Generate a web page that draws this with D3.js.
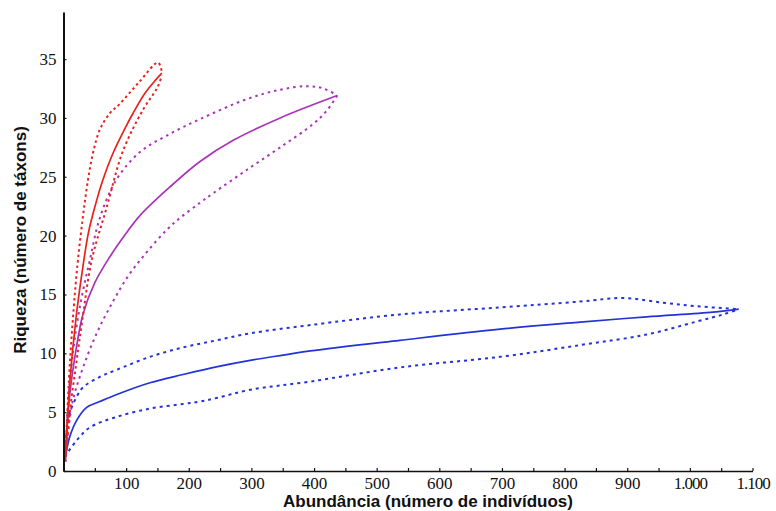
<!DOCTYPE html>
<html>
<head>
<meta charset="utf-8">
<script src="https://cdn.jsdelivr.net/npm/d3@7"></script>
<style>
  html, body { margin: 0; padding: 0; background: #fff; }
  svg { display: block; }
  .tick text { font-family: "Liberation Serif", "DejaVu Serif", "Times New Roman", serif; font-size: 17px; }
  .title { font-family: "Liberation Sans", Arial, sans-serif; font-weight: bold; font-size: 17px; }
</style>
</head>
<body>
<svg id="chart" width="776" height="511"></svg>
<script>
// Rarefaction curves: mean richness and confidence bounds (x = individuals, y = taxa)
const xTicks = [50,100,150,200,250,300,350,400,450,500,550,600,650,700,750,800,850,900,950,1000,1050,1100];
const xLabels = [100,200,300,400,500,600,700,800,900,1000,1100];
const yTicks = [0,5,10,15,20,25,30,35];

const redMean  = [[3,1],[10,7.5],[20,13],[30,17],[40,20.3],[53,23],[62,24.6],[79,27],[100,29.3],[111,30.4],[130,32.1],[145,33.1],[157,33.8]];
const redUpper = [[3,1.4],[10,9],[18,15],[23,17.9],[31,21.6],[39,24.7],[47,27],[58,29],[74,30.4],[90,31.2],[120,33],[151,34.7],[157,33.9]];
const redLower = [[3,0.8],[10,5],[20,9],[30,12.8],[45,17.9],[69,22.4],[95,27.2],[127,30.7],[150,32.6],[157,33.6]];

const purpleMean  = [[3,1],[10,6.5],[20,10.3],[31,13.3],[50,16],[74,18.2],[100,20.2],[122,21.7],[165,23.9],[218,26.3],[271,28.1],[346,30],[437,31.9]];
const purpleUpper = [[3,1.2],[10,7.5],[20,12],[30,15],[42,17.9],[58,21.5],[85,24.8],[122,27.1],[165,28.5],[218,29.9],[293,31.6],[346,32.4],[389,32.7],[415,32.5],[437,31.9]];
const purpleLower = [[3,0.8],[13,5.5],[26,8],[53,11.7],[80,14.5],[105,16.7],[133,18.6],[165,20.5],[186,21.5],[218,22.8],[239,23.6],[293,25.6],[346,27.5],[399,29.5],[420,30.6],[437,31.9]];

const blueMean  = [[2,0.9],[10,2.9],[21,4.3],[37,5.4],[58,5.9],[85,6.5],[138,7.5],[191,8.2],[244,8.85],[298,9.4],[351,9.85],[394,10.2],[537,11.1],[697,12.05],[825,12.65],[931,13.1],[1037,13.5],[1078,13.75]];
const blueUpper = [[2,1.8],[10,4.9],[21,6.3],[31,7.1],[58,8],[85,8.6],[138,9.7],[191,10.5],[244,11.1],[298,11.7],[394,12.4],[537,13.3],[697,13.9],[825,14.4],[894,14.7],[957,14.3],[1011,14],[1078,13.75]];
const blueLower = [[2,1.2],[21,2.6],[42,3.7],[85,4.6],[138,5.3],[191,5.7],[218,5.9],[244,6.2],[298,6.9],[394,7.6],[537,8.8],[697,9.7],[825,10.7],[931,11.6],[1011,12.7],[1053,13.3],[1078,13.75]];

const svg = d3.select("#chart");

const x = d3.scaleLinear().domain([0, 1100]).range([63.5, 752.5]);
const y = d3.scaleLinear().domain([0, 39]).range([471, 12]);

const ptBR = d3.formatLocale({ decimal: ",", thousands: ".", grouping: [3], currency: ["", ""] });
const fmt = ptBR.format(",d");

const line = d3.line()
  .x(d => x(d[0]))
  .y(d => y(d[1]))
  .curve(d3.curveCatmullRom.alpha(0.5));

const series = [
  { data: blueLower,   color: "#2233d8", dash: "3,4" },
  { data: blueUpper,   color: "#2233d8", dash: "3,4" },
  { data: blueMean,    color: "#2233d8", dash: null },
  { data: purpleLower, color: "#a834b8", dash: "2.5,4" },
  { data: purpleUpper, color: "#a834b8", dash: "2.5,4" },
  { data: purpleMean,  color: "#a834b8", dash: null },
  { data: redLower,    color: "#e8221e", dash: "2.5,3" },
  { data: redUpper,    color: "#e8221e", dash: "2.5,3" },
  { data: redMean,     color: "#e8221e", dash: null }
];

svg.append("g")
  .selectAll("path")
  .data(series)
  .join("path")
  .attr("d", d => line(d.data))
  .attr("fill", "none")
  .attr("stroke", d => d.color)
  .attr("stroke-width", d => d.dash ? 2 : 1.7)
  .attr("stroke-dasharray", d => d.dash);

// X axis: minor ticks every 50, labels on the hundreds
const xAxis = d3.axisBottom(x)
  .tickValues(xTicks)
  .tickFormat(v => xLabels.includes(v) ? fmt(v) : "")
  .tickSizeInner(-3)
  .tickSizeOuter(0)
  .tickPadding(6);

const gx = svg.append("g").attr("transform", "translate(0,471)").call(xAxis)
  .attr("font-family", null).attr("font-size", null);
gx.select(".domain").attr("stroke", "#111").attr("stroke-width", 1.6);
gx.selectAll(".tick line").attr("stroke", "#111").attr("stroke-width", 1.2);
gx.selectAll(".tick text")
  .attr("fill", "#111")
  .attr("letter-spacing", d => d >= 1000 ? -1 : null);

// Y axis
const yAxis = d3.axisLeft(y)
  .tickValues(yTicks)
  .tickSizeInner(-3)
  .tickSizeOuter(0)
  .tickPadding(7);

const gy = svg.append("g").attr("transform", "translate(63.5,0)").call(yAxis)
  .attr("font-family", null).attr("font-size", null);
gy.select(".domain").attr("stroke", "#111").attr("stroke-width", 2);
gy.selectAll(".tick line").attr("stroke", "#111").attr("stroke-width", 1.2);
gy.selectAll(".tick text").attr("fill", "#111");

// Axis titles
svg.append("text")
  .attr("class", "title")
  .attr("x", 428)
  .attr("y", 507)
  .attr("text-anchor", "middle")
  .attr("fill", "#111")
  .text("Abundância (número de indivíduos)");

svg.append("text")
  .attr("class", "title")
  .attr("transform", "translate(26,240) rotate(-90)")
  .attr("text-anchor", "middle")
  .attr("fill", "#111")
  .text("Riqueza (número de táxons)");
</script>
</body>
</html>
